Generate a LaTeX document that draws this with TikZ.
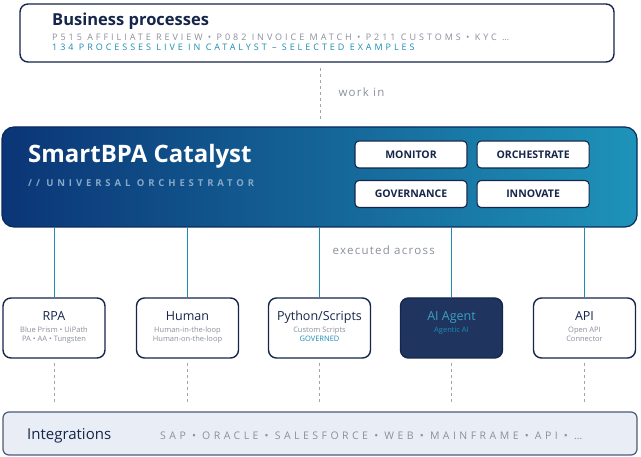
\documentclass[tikz,border=0pt]{standalone}
\usepackage{fontspec}
\setmainfont{Open Sans}
\newfontfamily\spaced[LetterSpace=33]{Open Sans}
\newfontfamily\widespaced[LetterSpace=41]{Open Sans}
\newfontfamily\lightspaced[LetterSpace=11]{Open Sans}
\usepackage{xcolor}
\usetikzlibrary{arrows.meta, positioning, calc}

\definecolor{navy}{HTML}{15264A}
\definecolor{deepblue}{HTML}{0B3576}
\definecolor{tealblue}{HTML}{1E93B9}
\definecolor{linkteal}{HTML}{1A8DB6}
\definecolor{mutedgray}{HTML}{8A8F9C}
\definecolor{agentfill}{HTML}{1F3560}
\definecolor{paleblue}{HTML}{E9EEF6}
\definecolor{slate}{HTML}{4A5A7A}
\definecolor{subblue}{HTML}{86A9C8}

\begin{document}
\begin{tikzpicture}[x=1pt, y=-1pt,
    frame/.style={draw=navy, line width=1.4pt, rounded corners=8pt, fill=white},
    pill/.style={draw=navy, line width=1.1pt, rounded corners=4pt, fill=white,
        minimum width=112pt, minimum height=27pt, inner sep=0pt,
        font=\fontsize{10.5}{12}\selectfont\bfseries, text=navy},
    engine/.style={frame, minimum width=102pt, minimum height=60pt, inner sep=0pt},
    title/.style={font=\fontsize{12.5}{15}\selectfont, text=navy, anchor=base},
    small/.style={font=\fontsize{7.5}{9}\selectfont, text=mutedgray, anchor=base},
    link/.style={draw=linkteal, line width=1pt},
    tie/.style={draw=mutedgray!80, line width=1pt, dash pattern=on 3pt off 3pt},
    tag/.style={font=\lightspaced\fontsize{11.5}{13}\selectfont, text=mutedgray, anchor=west}]
    \useasboundingbox (0,0) rectangle (641,457);

    % business processes
    \node[frame, minimum width=594pt, minimum height=58pt] (bp) at (317,33) {};
    \node[anchor=base west, inner sep=0pt, font=\fontsize{16.5}{18}\selectfont\bfseries, text=navy]
        (bptitle) at (52,26) {Business processes};
    \node[anchor=base west, inner sep=0pt, font=\spaced\fontsize{9}{10}\selectfont, text=mutedgray]
        (bpline) at (52,40.5) {P515 AFFILIATE REVIEW • P082 INVOICE MATCH • P211 CUSTOMS • KYC …};
    \node[anchor=base west, inner sep=0pt, font=\spaced\fontsize{9}{10}\selectfont, text=linkteal]
        (bpcount) at (52,50.5) {134 PROCESSES LIVE IN CATALYST – SELECTED EXAMPLES};

    % catalyst
    \node[draw=deepblue!80!black, line width=1.2pt, rounded corners=12pt,
        left color=deepblue, right color=tealblue,
        minimum width=635pt, minimum height=100pt] (cat) at (319.5,177) {};
    \node[anchor=base west, inner sep=0pt, font=\fontsize{24}{27}\selectfont\bfseries, text=white]
        (cattitle) at (28,163) {SmartBPA Catalyst};
    \node[anchor=base west, inner sep=0pt, font=\widespaced\fontsize{9.5}{11}\selectfont\bfseries, text=subblue]
        (catsub) at (28,187) {// UNIVERSAL ORCHESTRATOR};
    \node[pill] (monitor) at (411,154.5) {MONITOR};
    \node[pill, right=9pt of monitor] (orch) {ORCHESTRATE};
    \node[pill] (gov) at (411,194) {GOVERNANCE};
    \node[pill, right=9pt of gov] (innov) {INNOVATE};

    \coordinate (worktop) at (320,68);
    \coordinate (workend) at (320,122);
    \draw[tie] (worktop) -- (workend);
    \node[tag] (workin) at (335,92) {work in};

    % execution layer
    \node[engine] (rpa) at (54,328) {};
    \node[engine] (human) at (187.5,328) {};
    \node[engine] (python) at (319.5,328) {};
    \node[engine, fill=agentfill] (agent) at (451.5,328) {};
    \node[engine] (api) at (584.5,328) {};

    \node[title] at ($(rpa)+(0,-7)$) {RPA};
    \node[small] at ($(rpa)+(0,5)$) {Blue Prism • UiPath};
    \node[small] at ($(rpa)+(0,14)$) {PA • AA • Tungsten};
    \node[title] at ($(human)+(0,-7)$) {Human};
    \node[small] at ($(human)+(0,5)$) {Human-in-the-loop};
    \node[small] at ($(human)+(0,14)$) {Human-on-the-loop};
    \node[title] at ($(python)+(0,-7)$) {Python/Scripts};
    \node[small] at ($(python)+(0,5)$) {Custom Scripts};
    \node[small, text=linkteal] at ($(python)+(0,14)$) {GOVERNED};
    \node[title, text=linkteal!85!white] at ($(agent)+(0,-7)$) {AI Agent};
    \node[small, text=linkteal] at ($(agent)+(0,5)$) {Agentic AI};
    \node[title] at ($(api)+(0,-7)$) {API};
    \node[small] at ($(api)+(0,5)$) {Open API};
    \node[small] at ($(api)+(0,14)$) {Connector};

    \foreach \e in {rpa, human, python, agent, api}
        \draw[link] (\e.north |- cat.south) -- (\e.north);
    \node[tag] (exec) at (329,250) {executed across};

    % integrations
    \node[draw=slate, line width=1.2pt, rounded corners=6pt, fill=paleblue,
        minimum width=634pt, minimum height=43pt] (integ) at (320,433.5) {};
    \node[anchor=base west, inner sep=0pt, font=\fontsize{15}{17}\selectfont, text=navy]
        (integtitle) at (27,440) {Integrations};
    \node[anchor=base west, inner sep=0pt, font=\spaced\fontsize{10.5}{12}\selectfont, text=mutedgray]
        (integlist) at (160,440) {SAP • ORACLE • SALESFORCE • WEB • MAINFRAME • API • …};

    \foreach \e in {rpa, human, python, agent, api}
        \draw[tie] ($(\e.south)+(0,4)$) -- ($(\e.south |- integ.north)+(0,-7)$);
\end{tikzpicture}
\end{document}
